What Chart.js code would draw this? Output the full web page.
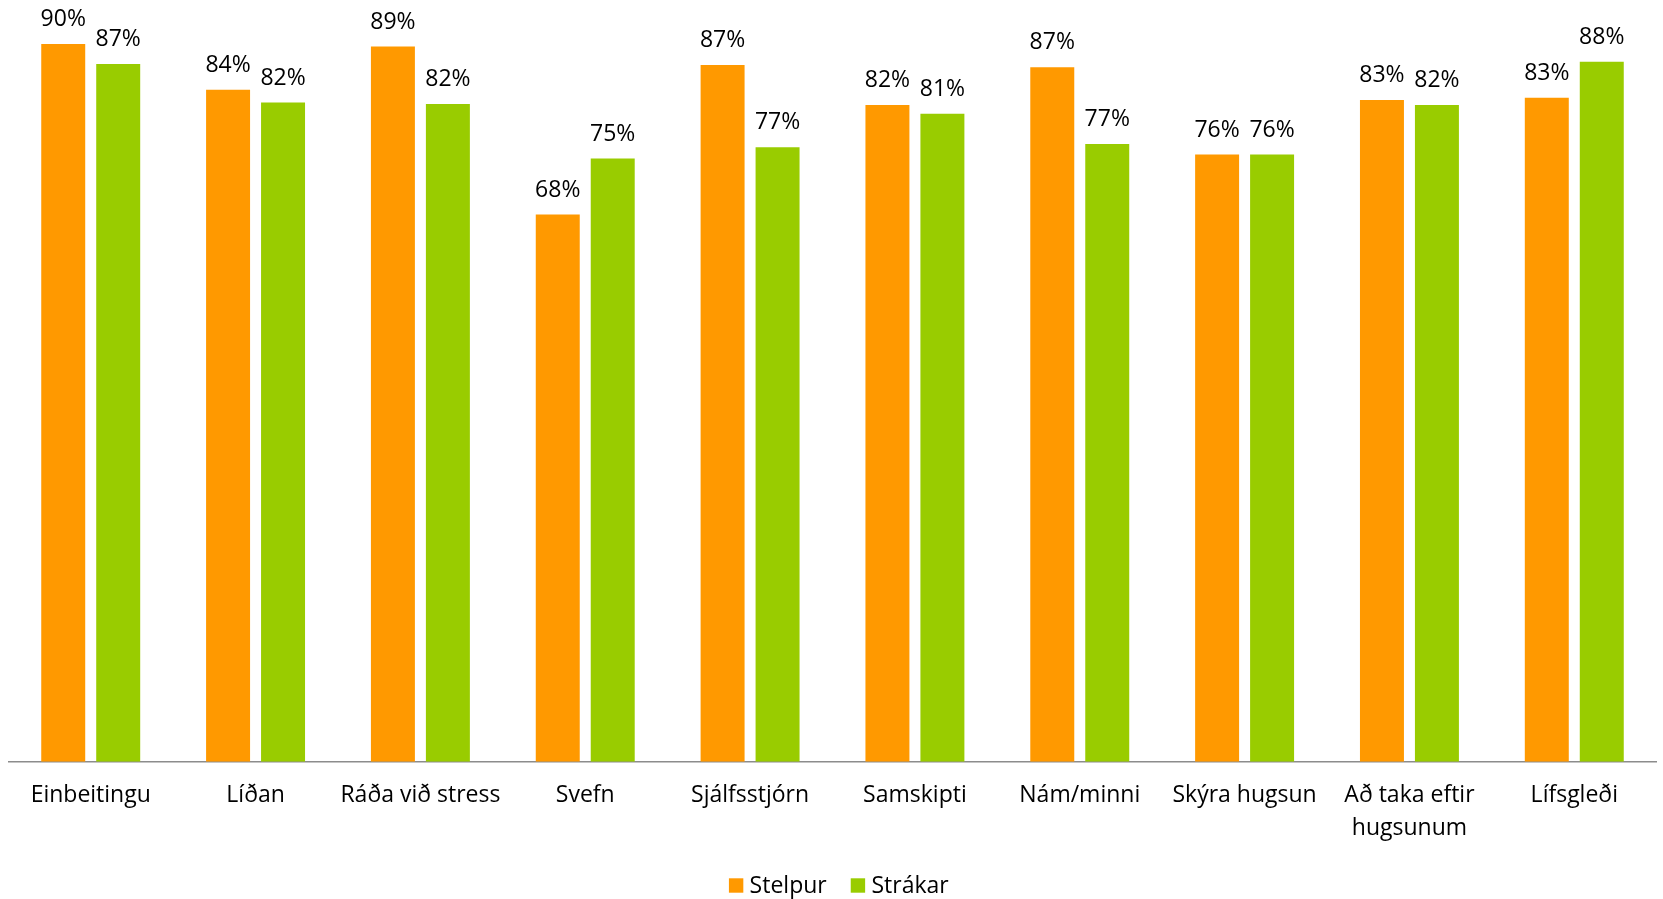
<!DOCTYPE html>
<html>
<head>
<meta charset="utf-8">
<script src="https://cdn.jsdelivr.net/npm/chart.js@4.4.1/dist/chart.umd.min.js"></script>
<style>
html,body{margin:0;padding:0;background:#fff;}
#wrap{width:1663px;height:899px;position:relative;}
</style>
</head>
<body>
<div id="wrap"><canvas id="c"></canvas></div>
<script>
const categories = ['Einbeitingu', 'Líðan', 'Ráða við stress', 'Svefn', 'Sjálfsstjórn', 'Samskipti', 'Nám/minni', 'Skýra hugsun', ['Að taka eftir', 'hugsunum'], 'Lífsgleði'];
const seriesNames = ['Stelpur', 'Strákar'];
const stelpur = [89.7, 84.0, 89.4, 68.4, 87.1, 82.1, 86.8, 75.9, 82.7, 83.0];
const strakar = [87.2, 82.4, 82.2, 75.4, 76.8, 81.0, 77.2, 75.9, 82.1, 87.5];
const colors = ['#FF9900', '#99CC00'];

const FONT = '"Open Sans", sans-serif';
const FS = 23;

const valueLabels = {
  id: 'valueLabels',
  afterDatasetsDraw(chart) {
    const ctx = chart.ctx;
    ctx.save();
    ctx.font = FS + 'px ' + FONT;
    ctx.fillStyle = '#000';
    ctx.textAlign = 'center';
    ctx.textBaseline = 'alphabetic';
    chart.data.datasets.forEach((ds, di) => {
      const meta = chart.getDatasetMeta(di);
      meta.data.forEach((bar, i) => {
        ctx.fillText(Math.round(ds.data[i]) + '%', bar.x, bar.y - 18);
      });
    });
    ctx.restore();
  }
};

const customLegend = {
  id: 'customLegend',
  afterDraw(chart) {
    const ctx = chart.ctx;
    ctx.save();
    ctx.font = FS + 'px ' + FONT;
    ctx.textBaseline = 'alphabetic';
    ctx.textAlign = 'left';
    const box = 14.4, gap = 6.3, spacing = 24;
    let total = 0;
    const widths = chart.data.datasets.map(ds => ctx.measureText(ds.label).width);
    widths.forEach((w, i) => { total += box + gap + w + (i ? spacing : 0); });
    let x = 838.8 - total / 2;
    const boxTop = 878.3, baseline = 892.5;
    chart.data.datasets.forEach((ds, i) => {
      ctx.fillStyle = ds.backgroundColor;
      ctx.fillRect(x, boxTop, box, box);
      ctx.fillStyle = '#000';
      ctx.fillText(ds.label, x + box + gap, baseline);
      x += box + gap + widths[i] + spacing;
    });
    ctx.restore();
  }
};

new Chart(document.getElementById('c'), {
  type: 'bar',
  data: {
    labels: categories,
    datasets: [
      { label: seriesNames[0], data: stelpur, backgroundColor: colors[0], categoryPercentage: 0.667, barPercentage: 0.8 },
      { label: seriesNames[1], data: strakar, backgroundColor: colors[1], categoryPercentage: 0.667, barPercentage: 0.8 }
    ]
  },
  options: {
    responsive: true,
    maintainAspectRatio: false,
    animation: false,
    devicePixelRatio: 1,
    layout: { padding: { left: 8.3, right: 6.3, top: 1.7, bottom: 40 } },
    plugins: {
      legend: { display: false },
      tooltip: { enabled: false },
      title: { display: false }
    },
    scales: {
      x: {
        grid: { display: false, drawTicks: false },
        border: { display: true, color: '#8c8c8c', width: 1.5 },
        ticks: {
          color: '#000',
          font: { family: FONT, size: FS, lineHeight: 1.44 },
          padding: 17,
          autoSkip: false,
          maxRotation: 0,
          minRotation: 0
        },
        afterFit(scale) { scale.height = 899 - 40 - 761.7; }
      },
      y: {
        display: false,
        min: 0,
        max: 95,
        grid: { display: false }
      }
    }
  },
  plugins: [valueLabels, customLegend]
});
</script>
</body>
</html>
